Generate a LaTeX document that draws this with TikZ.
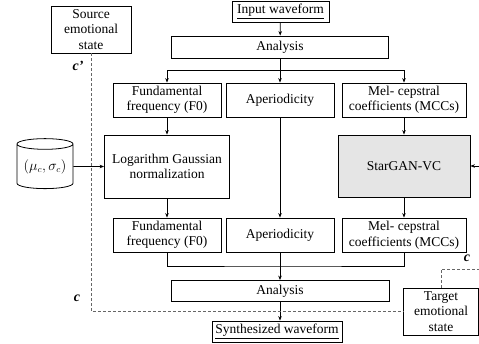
\documentclass[tikz,border=0pt]{standalone}
\usepackage{fontspec}
\setmainfont{Liberation Serif}
\usetikzlibrary{shapes.geometric,arrows.meta}
\begin{document}
\begin{tikzpicture}[x=1pt,y=-1pt,
  box/.style={draw, line width=0.8pt, inner sep=0pt, align=center, font=\fontsize{13.5}{15.5}\selectfont},
  arr/.style={-{Stealth[length=4.5pt,width=3.5pt]}, line width=0.8pt},
  ln/.style={line width=0.8pt},
  dsh/.style={dash pattern=on 3pt off 2pt, line width=0.8pt, black!60},
  lbl/.style={font=\fontsize{14}{16}\selectfont\bfseries\itshape, inner sep=0pt}]
\useasboundingbox (0,0) rectangle (479,343);

\node[box, minimum width=80pt, minimum height=47pt] (src) at (91,29.5) {Source\\emotional\\state};
\node[box, minimum width=97pt, minimum height=21pt] (in) at (280.5,11.5) {\underline{Input waveform}};
\node[box, minimum width=217pt, minimum height=22pt] (an1) at (280,47) {Analysis};
\node[box, minimum width=108pt, minimum height=34pt] (f0t) at (167,100) {Fundamental\\frequency (F0)};
\node[box, minimum width=108pt, minimum height=34pt] (apt) at (280,100) {Aperiodicity};
\node[box, minimum width=124pt, minimum height=34pt] (mct) at (404,100) {Mel- cepstral\\coefficients (MCCs)};
\node[box, minimum width=125pt, minimum height=63pt] (lgn) at (167,166.5) {Logarithm Gaussian\\normalization};
\node[box, fill=gray!20, minimum width=132pt, minimum height=62pt] (sg) at (404,166) {StarGAN-VC};
\node[box, minimum width=108pt, minimum height=34pt] (f0b) at (167,235) {Fundamental\\frequency (F0)};
\node[box, minimum width=108pt, minimum height=34pt] (apb) at (280,235) {Aperiodicity};
\node[box, minimum width=124pt, minimum height=34pt] (mcb) at (404,235) {Mel- cepstral\\coefficients (MCCs)};
\node[box, minimum width=218pt, minimum height=21pt] (an2) at (280,291) {Analysis};
\node[box, minimum width=130pt, minimum height=21pt] (syn) at (277,331.5) {\underline{Synthesized waveform}};
\node[box, minimum width=75pt, minimum height=47pt] (tgt) at (441,311.5) {Target\\emotional\\state};
\node[draw, line width=0.8pt, cylinder, shape border rotate=90, aspect=0.25, minimum width=56pt, minimum height=50pt, inner sep=0pt, font=\fontsize{13.5}{15.5}\selectfont] (cyl) at (45,166.5) {$(\mu_c,\sigma_c)$};

\node[lbl] (cp) at (78,66) {c\textquoteright};
\node[lbl] (cl) at (77,298) {c};
\node[lbl] (cr) at (467,258) {c};

\coordinate (br1) at (280,70);
\coordinate (br2) at (280,266);
\coordinate (tc) at (479,269);
\coordinate (sgin) at (479,166);

\draw[arr] (in) -- (an1);
\draw[arr] (an1) -- (apt);
\draw[arr] (br1) -| (f0t);
\draw[arr] (br1) -| (mct);
\draw[arr] (f0t) -- (lgn);
\draw[arr] (lgn) -- (f0b);
\draw[arr] (apt) -- (apb);
\draw[arr] (mct) -- (sg);
\draw[arr] (sg) -- (mcb);
\draw[ln] (f0b.south) |- (br2) -| (mcb.south);
\draw[arr] (apb) -- (an2);
\draw[arr] (an2.south) -- (an2.south |- syn.north);
\draw[arr] (cyl) -- (lgn);
\draw[arr] (sgin) -- (sg.east);

\draw[dsh] (src.south) |- (tgt.west);
\draw[dsh] (tgt.north) |- (tc);
\end{tikzpicture}
\end{document}
